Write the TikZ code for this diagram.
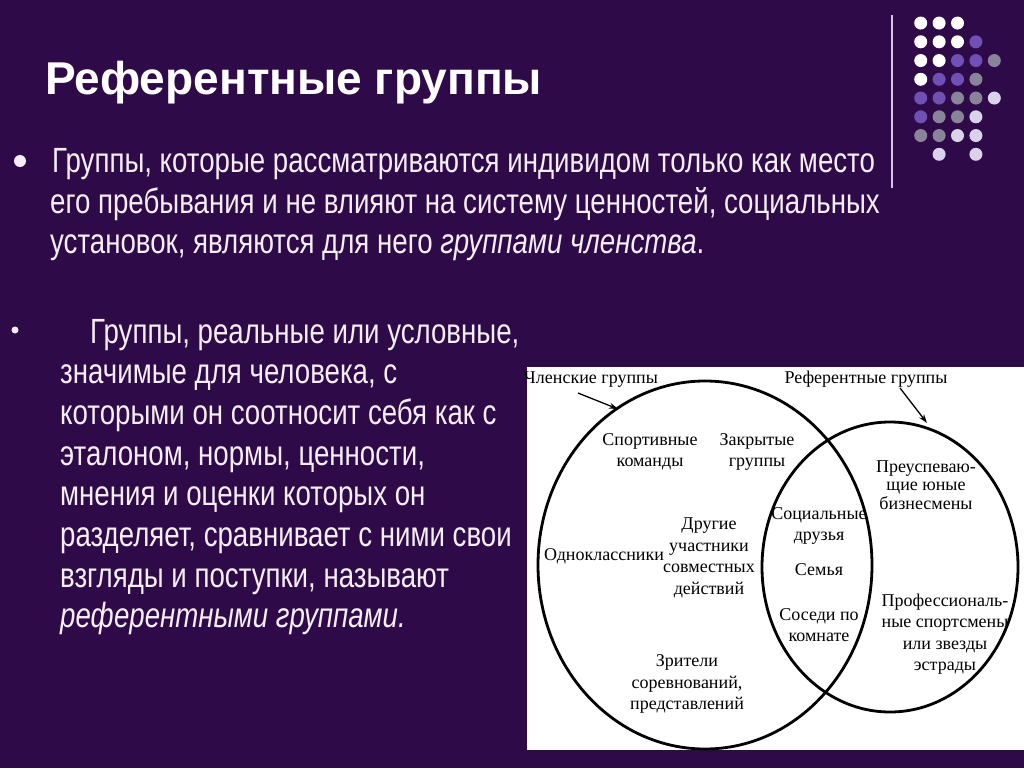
\documentclass[tikz,border=0pt]{standalone}
\usepackage{fontspec}
\setmainfont{Liberation Sans}
\newfontfamily\slidefont[FakeStretch=0.79]{Liberation Sans}
\newfontfamily\diagfont{Liberation Serif}
\usetikzlibrary{arrows.meta}
\definecolor{slidebg}{RGB}{47,10,72}
\definecolor{dotwhite}{RGB}{255,255,255}
\definecolor{dotpurple}{RGB}{112,80,180}
\definecolor{dotgray}{RGB}{138,132,155}
\definecolor{dotlilac}{RGB}{218,210,235}
\definecolor{bodytext}{RGB}{246,238,246}
\definecolor{rulelilac}{RGB}{215,195,230}
\begin{document}
\begin{tikzpicture}[x=1pt,y=-1pt,
  body/.style={anchor=base west,text=bodytext,inner sep=0pt,
    font=\slidefont\fontsize{35}{40}\selectfont},
  lbl/.style={align=center,inner sep=0pt,
    font=\diagfont\fontsize{18}{21.5}\selectfont},
  ring/.style={line width=2.8pt},
  ptr/.style={-{Stealth[length=9pt,width=6pt]},line width=1.3pt}]
  \useasboundingbox (0,0) rectangle (1024,768);
  \fill[slidebg] (0,0) rectangle (1024,768);
  % decoration: dots and rule
  \foreach \c/\r/\col in {1/1/dotwhite,2/1/dotwhite,3/1/dotwhite,
    1/2/dotwhite,2/2/dotwhite,3/2/dotwhite,4/2/dotpurple,
    1/3/dotwhite,2/3/dotwhite,3/3/dotpurple,4/3/dotpurple,5/3/dotgray,
    1/4/dotwhite,2/4/dotpurple,3/4/dotpurple,4/4/dotgray,
    1/5/dotpurple,2/5/dotpurple,3/5/dotgray,4/5/dotgray,5/5/dotlilac,
    1/6/dotpurple,2/6/dotgray,3/6/dotgray,4/6/dotlilac,
    1/7/dotgray,2/7/dotgray,3/7/dotlilac,4/7/dotlilac,
    2/8/dotlilac,4/8/dotlilac}
    \fill[\col] (902.3+18.4*\c,4.3+18.75*\r) circle (6.5);
  \draw[rulelilac,line width=1.5pt] (892,15) -- (892,188);
  % title
  \node[anchor=base west,text=white,inner sep=0pt,
    font=\fontsize{46}{50}\selectfont\bfseries] (title) at (45,94)
    {Референтные группы};
  % first bullet
  \fill[bodytext] (20,161) circle (6);
  \node[body] (memA) at (52,172) {Группы, которые рассматриваются индивидом только как место};
  \node[body] (memB) at (50,213) {его пребывания и не влияют на систему ценностей, социальных};
  \node[body] (memC) at (50,253) {установок, являются для него \textit{группами членства}.};
  % second bullet
  \fill[bodytext] (15,330) circle (3.5);
  \node[body] (refA) at (90,343) {Группы, реальные или условные,};
  \foreach \i/\txt in {1/{значимые для человека, с},
    2/{которыми он соотносит себя как с},
    3/{эталоном, нормы, ценности,},
    4/{мнения и оценки которых он},
    5/{разделяет, сравнивает с ними свои},
    6/{взгляды и поступки, называют},
    7/{\textit{референтными группами.}}}
    \node[body] (ref\i) at (60,343+40.7*\i) {\txt};
  % venn diagram
  \fill[white] (527,367) rectangle (1024,750);
  \draw[ring] (705,565) ellipse [x radius=167, y radius=184];
  \draw[ring] (890,567) ellipse [x radius=128, y radius=145];
  \node[lbl,anchor=base west] (memlbl) at (524,383) {Членские группы};
  \node[lbl,anchor=base] (reflbl) at (866,383) {Референтные группы};
  \coordinate (memtip) at (618,409);
  \coordinate (reftip) at (927,423);
  \draw[ptr] (578,393) -- (memtip);
  \draw[ptr] (900,388) -- (reftip);
  \node[lbl] (sport) at (650,452) {Спортивные\\команды};
  \node[lbl] (closed) at (757,452) {Закрытые\\группы};
  \node[lbl,font=\diagfont\fontsize{18}{18.5}\selectfont] (biz) at (926,485)
    {Преуспеваю-\\щие юные\\бизнесмены};
  \node[lbl] (social) at (819,526) {Социальные\\друзья};
  \node[lbl] (others) at (709,558) {Другие\\участники\\совместных\\действий};
  \node[lbl] (class) at (604,556) {Одноклассники};
  \node[lbl] (family) at (819,570) {Семья};
  \node[lbl] (room) at (819,625) {Соседи по\\комнате};
  \node[lbl] (pros) at (945,634) {Профессиональ-\\ные спортсмены\\или звезды\\эстрады};
  \node[lbl] (fans) at (687,684) {Зрители\\соревнований,\\представлений};
\end{tikzpicture}
\end{document}
